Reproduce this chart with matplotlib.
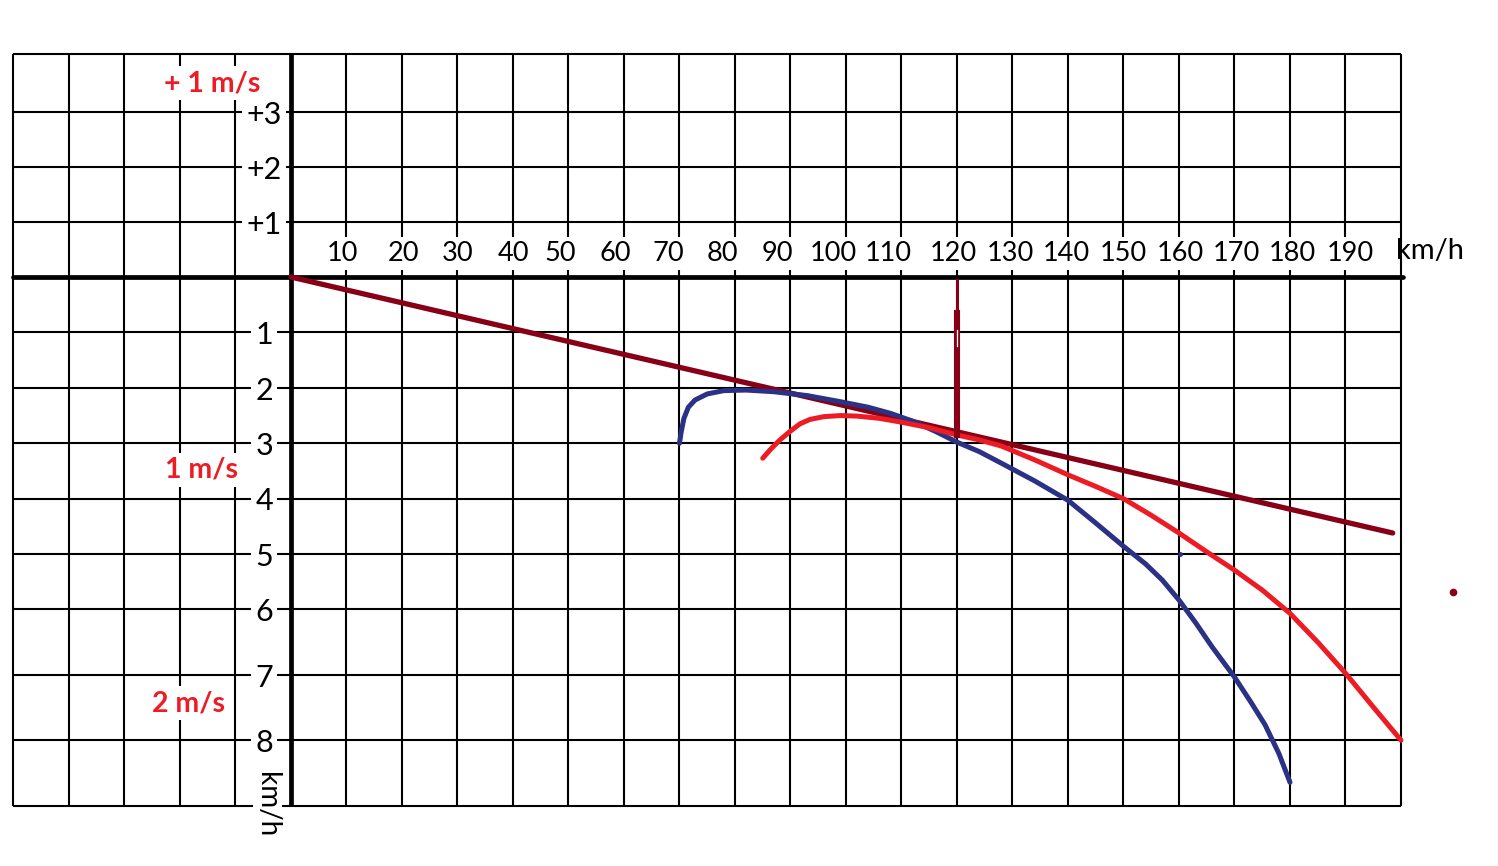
import numpy as np
import matplotlib
matplotlib.use("Agg")
import matplotlib.pyplot as plt

plt.rcParams['font.family'] = ['Lato', 'DejaVu Sans']

# speed axis labels (km/h) and where the text sits
speed_ticks = [10, 20, 30, 40, 50, 60, 70, 80, 90, 100, 110, 120, 130, 140, 150, 160, 170, 180, 190]
speed_label_pos = [9.2, 20.2, 30.1, 40.0, 48.6, 58.4, 67.9, 77.8, 87.7, 97.7, 107.7, 119.3,
                   129.7, 139.7, 149.9, 160.2, 170.3, 180.5, 190.8]

# vertical scale: grid line positions and labels
grid_y = [-4.03, -2.98, -1.99, -0.99, 0, 1, 2, 3, 4, 5, 6, 7.18, 8.36, 9.55]
y_labels = ['+3', '+2', '+1', '1', '2', '3', '4', '5', '6', '7', '8']
y_label_pos = [-2.98, -1.99, -0.99, 1, 2, 3, 4, 5, 6, 7.18, 8.36]
grid_x = list(range(-50, 201, 10))

# polar curves (speed km/h, sink)
blue_speed = [70.0, 70.3, 70.8, 71.6, 72.8, 75.0, 78.0, 82.0, 87.0, 93.0, 99.0, 104.0, 108.0,
              112.0, 116.0, 120.0, 124.0, 128.0, 134.0, 140.0, 145.0, 150.0, 154.0, 157.0,
              160.0, 163.0, 166.0, 170.0, 173.0, 175.5, 178.0, 180.0]
blue_sink = [3.00, 2.80, 2.55, 2.35, 2.22, 2.11, 2.05, 2.04, 2.07, 2.14, 2.25, 2.35, 2.46,
             2.60, 2.78, 2.98, 3.15, 3.36, 3.68, 4.03, 4.44, 4.86, 5.18, 5.47,
             5.83, 6.24, 6.68, 7.22, 7.68, 8.08, 8.60, 9.12]

red_speed = [85.0, 86.5, 88.1, 90.0, 91.7, 93.5, 96.0, 99.0, 102.0, 106.0, 110.0, 115.0,
             120.0, 124.0, 128.0, 134.0, 140.0, 145.0, 150.0, 155.0, 160.0, 165.0, 170.0,
             175.0, 180.0, 185.0, 190.0, 195.0, 200.0]
red_sink = [3.27, 3.10, 2.94, 2.78, 2.65, 2.57, 2.52, 2.50, 2.51, 2.55, 2.62, 2.72,
            2.85, 2.94, 3.05, 3.30, 3.57, 3.78, 4.00, 4.30, 4.62, 4.96, 5.29,
            5.65, 6.07, 6.59, 7.15, 7.76, 8.36]

tangent_speed = [0.0, 198.5]
tangent_sink = [0.0, 4.62]

marker_speed = 120
marker_thin = [0.06, 0.65]
marker_thick = [0.65, 2.85]

blue_dot = (160.2, 5.0)
red_dot = (209.4, 5.69)

GRIDC = 'black'
BLUE = '#2B3185'
RED = '#ED1C24'
DARKRED = '#880015'

fig = plt.figure(figsize=(14.98, 8.66), dpi=100)
ax = fig.add_axes([0, 0, 1, 1])
ax.set_xlim(-52.43, 217.48)
ax.set_ylim(10.63, -5.0)
ax.axis('off')

# grid
ax.vlines(grid_x, grid_y[0], grid_y[-1], color=GRIDC, lw=1.5, zorder=1)
ax.hlines(grid_y, grid_x[0], grid_x[-1], color=GRIDC, lw=1.5, zorder=1)
# main axes
ax.plot([grid_x[0], 200.3], [0, 0], color='black', lw=3.4, solid_capstyle='round', zorder=2)
ax.plot([0, 0], [grid_y[0], grid_y[-1]], color='black', lw=3.4, solid_capstyle='butt', zorder=2)

box = dict(facecolor='white', edgecolor='none', pad=3)
for lab, xp in zip(speed_ticks, speed_label_pos):
    ax.text(xp, -0.43, str(lab), ha='center', va='center', fontsize=19.5, bbox=box, zorder=3)
ax.text(205.3, -0.47, 'km/h', ha='center', va='center', fontsize=21, zorder=3)

for lab, yp in zip(y_labels, y_label_pos):
    ax.text(-4.8, yp + 0.05, lab, ha='center', va='center', fontsize=22, bbox=box, zorder=3)
ax.text(-4.3, 9.53, 'km/h', ha='center', va='center', fontsize=20, rotation=-90,
        bbox=dict(facecolor='white', edgecolor='none', pad=1), zorder=3)

# red annotations
for txt, xp, yp in [('+ 1 m/s', -14.2, -3.5), ('1 m/s', -16.2, 3.48), ('2 m/s', -18.4, 7.69)]:
    ax.text(xp, yp, txt, ha='center', va='center', fontsize=20.5, fontweight='bold',
            color=RED, bbox=box, zorder=3)

# curves
ax.plot(tangent_speed, tangent_sink, color=DARKRED, lw=3.8, solid_capstyle='round', zorder=4)
ax.plot(blue_speed, blue_sink, color=BLUE, lw=3.6, solid_capstyle='round', zorder=5)
ax.plot(red_speed, red_sink, color=RED, lw=3.6, solid_capstyle='round', zorder=6)

# vertical marker at best glide speed
ax.plot([marker_speed, marker_speed], marker_thin, color=DARKRED, lw=2.2, zorder=7)
ax.plot([marker_speed, marker_speed], marker_thick, color=DARKRED, lw=4.4, zorder=7)
ax.plot([marker_speed, marker_speed], [0.95, 1.25], color='white', lw=0.9, zorder=8)

ax.plot(*blue_dot, 'o', color=BLUE, ms=2.5, zorder=7)
ax.plot(*red_dot, 'o', color=DARKRED, ms=4.5, zorder=7)

fig.savefig('out.png', dpi=100)
